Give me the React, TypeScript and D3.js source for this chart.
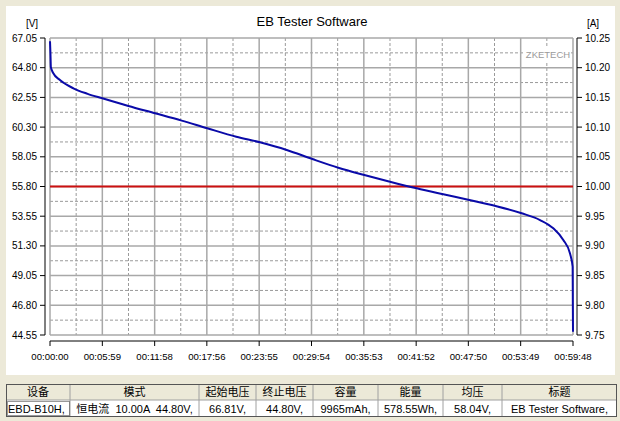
import React from 'react';
import * as d3 from 'd3';

// discharge curve, time in minutes / voltage in V
const timeMin = [
  0, 0.05, 0.1, 0.38, 1.14, 2.67, 4.3, 5.98, 8.96, 12.0, 15.06, 17.98, 21.3, 24.0, 27.07, 30.0,
  32.97, 35.94, 38.87, 41.93, 44.97, 47.95, 50.96, 53.93, 56.03, 57.55, 58.69, 59.45, 59.76, 59.78,
  59.8,
];
const voltage = [
  66.81, 65.9, 64.83, 64.38, 63.87, 63.24, 62.82, 62.48, 61.9, 61.35, 60.79, 60.21, 59.57, 59.15,
  58.57, 57.88, 57.22, 56.67, 56.16, 55.66, 55.21, 54.78, 54.32, 53.77, 53.26, 52.63, 51.75, 50.74,
  49.72, 47.0, 44.8,
];
const currentTime = [0, 59.8];
const currentA = [10.0, 10.0];

const xTickSec = [0, 359, 718, 1076, 1435, 1794, 2153, 2512, 2870, 3229, 3588];
const xTickLabels = [
  '00:00:00', '00:05:59', '00:11:58', '00:17:56', '00:23:55', '00:29:54',
  '00:35:53', '00:41:52', '00:47:50', '00:53:49', '00:59:48',
];
const vTicks = [44.55, 46.8, 49.05, 51.3, 53.55, 55.8, 58.05, 60.3, 62.55, 64.8, 67.05];
const aTicks = [9.75, 9.8, 9.85, 9.9, 9.95, 10.0, 10.05, 10.1, 10.15, 10.2, 10.25];

const tableHeaders = ['设备', '模式', '起始电压', '终止电压', '容量', '能量', '均压', '标题'];
const tableValues = [
  'EBD-B10H,', '恒电流  10.00A  44.80V,', '66.81V,', '44.80V,', '9965mAh,', '578.55Wh,',
  '58.04V,', 'EB Tester Software,',
];

const W = 620;
const H = 421;
const plot = { left: 50, right: 573, top: 38, bottom: 335 };
const colEdges = [6, 70, 199, 256, 313, 378, 443, 502, 617];
const font = '"Liberation Sans", Arial, sans-serif';
const cjk = '"Liberation Sans", "Noto Sans CJK SC", sans-serif';

const App: React.FC = () => {
  const x = d3.scaleLinear().domain([0, 3588]).range([plot.left, plot.right]);
  const yV = d3.scaleLinear().domain([44.55, 67.05]).range([plot.bottom, plot.top]);
  const yA = d3.scaleLinear().domain([9.75, 10.25]).range([plot.bottom, plot.top]);

  const vLine = d3
    .line<number>()
    .x((_, i) => x(timeMin[i] * 60))
    .y((d) => yV(d))
    .curve(d3.curveMonotoneX);
  const aLine = d3
    .line<number>()
    .x((_, i) => x(currentTime[i] * 60))
    .y((d) => yA(d));

  const xMinor = xTickSec.slice(1).map((s, i) => (s + xTickSec[i]) / 2);
  const vMinor = vTicks.slice(1).map((v, i) => (v + vTicks[i]) / 2);

  const rowTop = 384;
  const rowMid = 400;
  const rowBot = 417;

  return (
    <>
      <style>{'body{margin:0;background:#ECE9D8}'}</style>
      <svg width={W} height={H} style={{ display: 'block', background: '#ECE9D8' }} fontFamily={font}>
        <rect x={6} y={6} width={609} height={369} fill="#fff" />

        {/* title and units */}
        <text x={312} y={26} fontSize={13} textAnchor="middle" fill="#000">
          EB Tester Software
        </text>
        <text x={32} y={27} fontSize={10} textAnchor="middle">[V]</text>
        <text x={593} y={27} fontSize={10} textAnchor="middle">[A]</text>

        {/* grid */}
        <g>
          {xMinor.map((s) => (
            <line key={'xm' + s} x1={x(s)} x2={x(s)} y1={plot.top} y2={plot.bottom}
              stroke="#9a9a9a" strokeDasharray="3,2" />
          ))}
          {vMinor.map((v) => (
            <line key={'vm' + v} x1={plot.left} x2={plot.right} y1={yV(v)} y2={yV(v)}
              stroke="#9a9a9a" strokeDasharray="3,2" />
          ))}
          {xTickSec.map((s) => (
            <line key={'xg' + s} x1={x(s)} x2={x(s)} y1={plot.top} y2={plot.bottom}
              stroke="#a8a8a8" strokeWidth={1.5} />
          ))}
          {vTicks.map((v) => (
            <line key={'vg' + v} x1={plot.left} x2={plot.right} y1={yV(v)} y2={yV(v)}
              stroke="#a8a8a8" strokeWidth={1.5} />
          ))}
        </g>

        {/* watermark */}
        <rect x={525} y={47} width={46} height={14} fill="#fff" />
        <text x={548} y={58} fontSize={9.5} textAnchor="middle" fill="#9a9a9a">ZKETECH</text>

        {/* series */}
        <path d={aLine(currentA) ?? ''} fill="none" stroke="#cc1010" strokeWidth={2} />
        <path d={vLine(voltage) ?? ''} fill="none" stroke="#0a0aa8" strokeWidth={2} />

        {/* left axis */}
        <line x1={45} x2={45} y1={plot.top} y2={plot.bottom} stroke="#000" />
        {vTicks.map((v) => (
          <g key={'vt' + v}>
            <line x1={40} x2={45} y1={yV(v)} y2={yV(v)} stroke="#000" />
            <text x={37} y={yV(v) + 3.5} fontSize={10} textAnchor="end">{v.toFixed(2)}</text>
          </g>
        ))}

        {/* right axis */}
        <line x1={577} x2={577} y1={plot.top} y2={plot.bottom} stroke="#000" />
        {aTicks.map((a) => (
          <g key={'at' + a}>
            <line x1={577} x2={582} y1={yA(a)} y2={yA(a)} stroke="#000" />
            <text x={585} y={yA(a) + 3.5} fontSize={10}>{a.toFixed(2)}</text>
          </g>
        ))}

        {/* bottom axis */}
        <line x1={plot.left} x2={plot.right} y1={341} y2={341} stroke="#000" />
        {xTickSec.map((s, i) => (
          <g key={'xt' + s}>
            <line x1={x(s)} x2={x(s)} y1={341} y2={346} stroke="#000" />
            <text x={x(s)} y={360} fontSize={9.6} textAnchor="middle">{xTickLabels[i]}</text>
          </g>
        ))}

        {/* summary table */}
        <rect x={colEdges[0]} y={rowTop} width={colEdges[8] - colEdges[0]} height={rowMid - rowTop}
          fill="#ECE9D8" />
        <rect x={colEdges[0]} y={rowMid} width={colEdges[8] - colEdges[0]} height={rowBot - rowMid}
          fill="#fff" />
        {colEdges.slice(1, -1).map((cx) => (
          <line key={'ce' + cx} x1={cx} x2={cx} y1={rowTop} y2={rowBot} stroke="#a0a0a0" />
        ))}
        <line x1={colEdges[0]} x2={colEdges[8]} y1={rowMid} y2={rowMid} stroke="#a0a0a0" />
        <rect x={colEdges[0] + 0.5} y={rowTop + 0.5} width={colEdges[8] - colEdges[0] - 1}
          height={rowBot - rowTop - 1} fill="none" stroke="#555" />
        <rect x={7.5} y={401.5} width={62} height={14} fill="none" stroke="#333"
          strokeDasharray="1,1" />
        {tableHeaders.map((h, i) => (
          <text key={'th' + i} x={(colEdges[i] + colEdges[i + 1]) / 2} y={396} fontSize={11}
            textAnchor="middle" fontFamily={cjk}>{h}</text>
        ))}
        {tableValues.map((v, i) => (
          <text key={'td' + i} x={i === 0 ? 8 : (colEdges[i] + colEdges[i + 1]) / 2} y={413}
            fontSize={11} textAnchor={i === 0 ? 'start' : 'middle'} fontFamily={cjk}
            style={{ whiteSpace: 'pre' }}>{v}</text>
        ))}
      </svg>
    </>
  );
};

export default App;
